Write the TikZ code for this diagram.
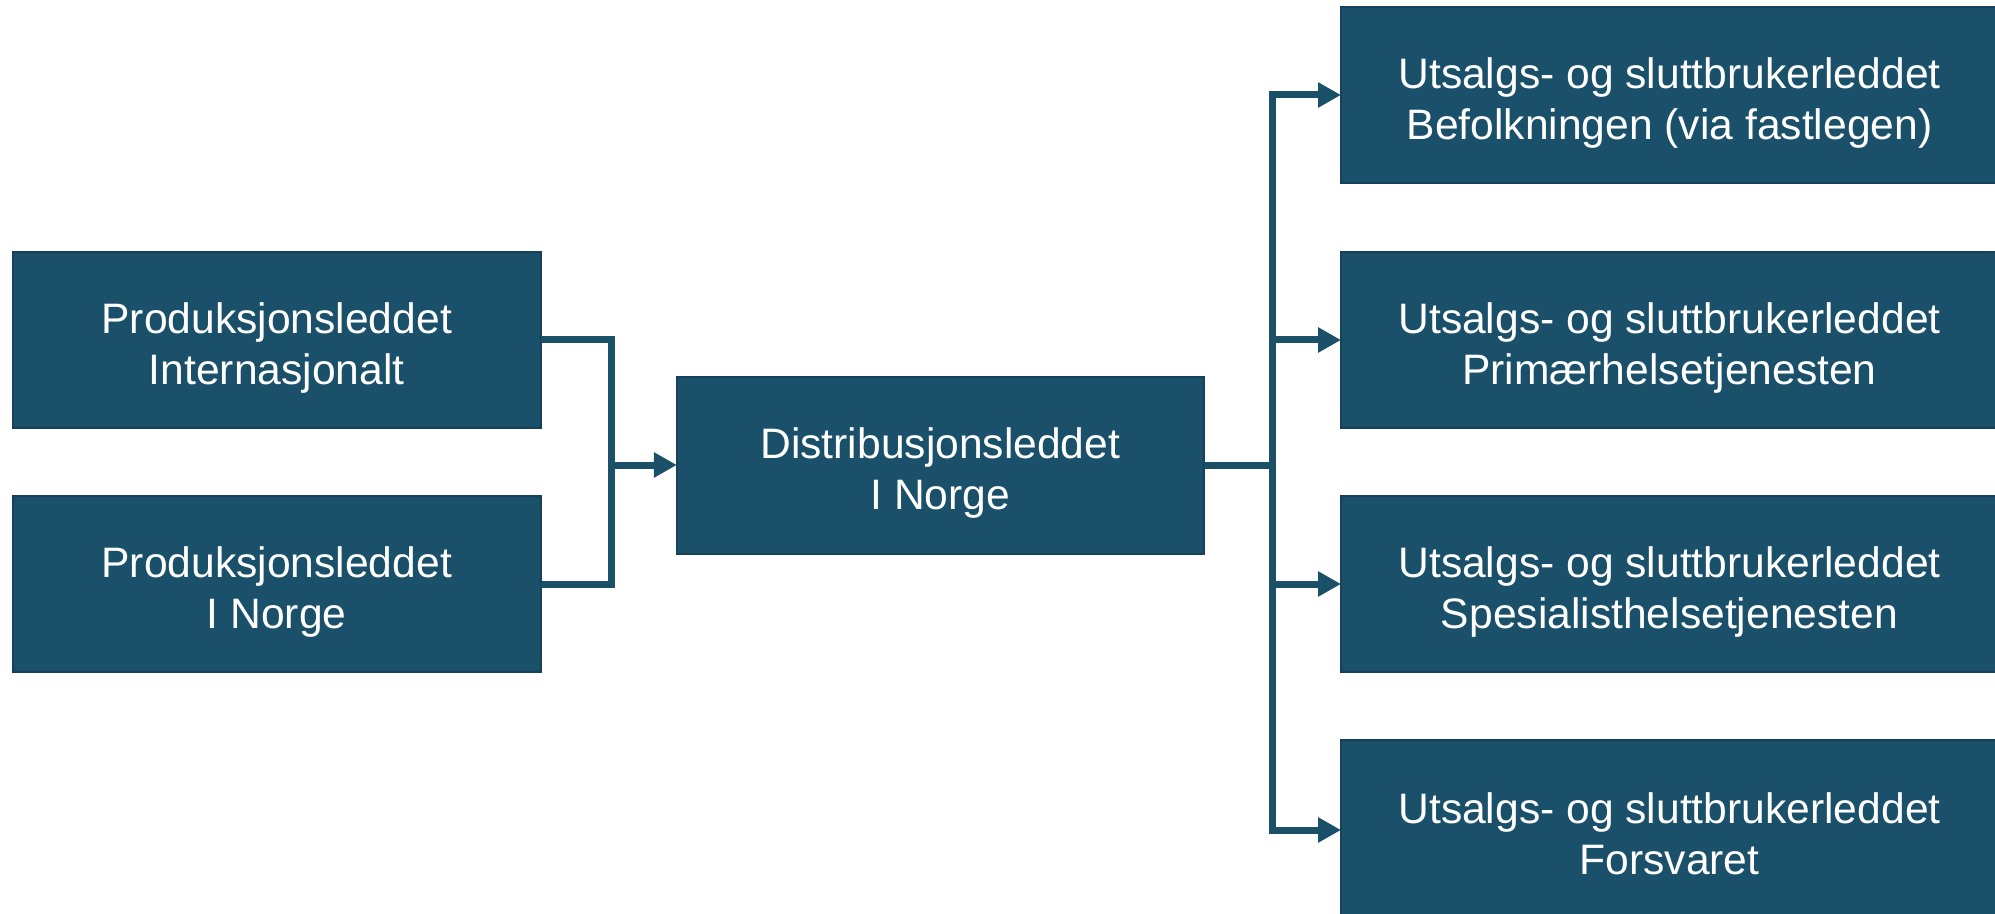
\documentclass[tikz,border=0pt]{standalone}
\usepackage{fontspec}
\setmainfont{Liberation Sans}
\usetikzlibrary{arrows.meta}
\definecolor{boxfill}{HTML}{1B506A}
\definecolor{boxedge}{HTML}{15425A}
\definecolor{linkcol}{HTML}{1B5069}
% two-line label with fixed first-line height and last-line depth,
% so every label sits at the same height in its box
\newcommand\stagetext[2]{\rule{0pt}{23.8pt}#1\\#2\rule[-4.5pt]{0pt}{4.5pt}}
\begin{document}
\begin{tikzpicture}[x=0.5pt,y=-0.5pt,
  stage/.style={draw=boxedge, line width=1pt, fill=boxfill, text=white,
    inner sep=0pt, outer sep=0pt, align=center,
    font=\fontsize{21.3pt}{25.5pt}\selectfont},
  leftbox/.style={stage, minimum width=264pt, minimum height=88pt},
  midbox/.style={stage, minimum width=263.5pt, minimum height=88.5pt},
  rightbox/.style={stage, minimum width=328.5pt, minimum height=88pt},
  link/.style={draw=linkcol, line width=3.5pt},
  linkarrow/.style={link, -{Triangle[length=11.5pt,width=12pt]}}]
\useasboundingbox (0,0) rectangle (1995,914);

% production stages
\node[leftbox] (prodInt) at (276.7,340) {\stagetext{Produksjonsleddet}{Internasjonalt}};
\node[leftbox] (prodNor) at (276.7,584) {\stagetext{Produksjonsleddet}{I Norge}};

% distribution
\node[midbox] (dist) at (940.3,465) {\stagetext{Distribusjonsleddet}{I Norge}};

% sales and end users
\node[rightbox] (sal1) at (1669.5,95) {\stagetext{Utsalgs- og sluttbrukerleddet}{Befolkningen (via fastlegen)}};
\node[rightbox] (sal2) at (1669.5,340) {\stagetext{Utsalgs- og sluttbrukerleddet}{Primærhelsetjenesten}};
\node[rightbox] (sal3) at (1669.5,584) {\stagetext{Utsalgs- og sluttbrukerleddet}{Spesialisthelsetjenesten}};
\node[rightbox, minimum height=90pt] (sal4) at (1669.5,830) {\stagetext{Utsalgs- og sluttbrukerleddet}{Forsvaret}};

% junction points
\coordinate (joinL) at (611,465);
\coordinate (joinR) at (1272,465);

% merging production into distribution
\draw[link] (prodInt.east) -| (joinL) |- (prodNor.east);
\draw[linkarrow] (joinL) -- (dist.west);

% splitting distribution into the sales stages
\draw[link] (dist.east) -- (joinR);
\draw[linkarrow] (joinR) |- (sal1.west);
\draw[linkarrow] (joinR) |- (sal2.west);
\draw[linkarrow] (joinR) |- (sal3.west);
\draw[linkarrow] (joinR) |- (sal4.west);
\end{tikzpicture}
\end{document}
